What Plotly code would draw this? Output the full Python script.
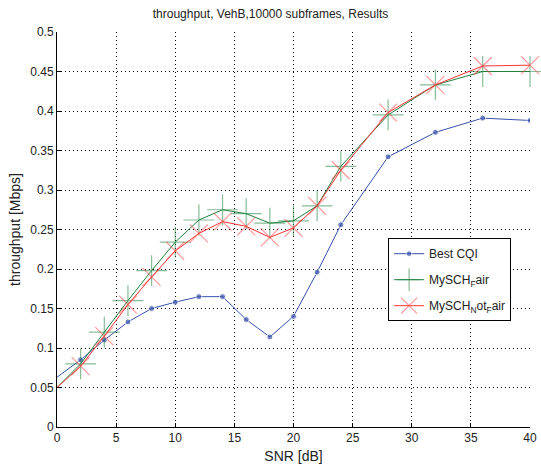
import plotly.graph_objects as go

snr = [0, 2, 4, 6, 8, 10, 12, 14, 16, 18, 20, 22, 24, 28, 32, 36, 40]
best_cqi = [0.063, 0.085, 0.110, 0.133, 0.150, 0.158, 0.165, 0.165, 0.136, 0.114, 0.140, 0.196, 0.256, 0.342, 0.373, 0.391, 0.388]
fair = [0.050, 0.080, 0.120, 0.160, 0.198, 0.234, 0.262, 0.275, 0.270, 0.258, 0.261, 0.280, 0.330, 0.395, 0.433, 0.450, 0.450]
not_fair = [0.050, 0.077, 0.115, 0.155, 0.190, 0.223, 0.245, 0.260, 0.254, 0.240, 0.252, 0.280, 0.325, 0.398, 0.433, 0.457, 0.458]
names = ["Best CQI", "MySCH<sub>F</sub>air", "MySCH<sub>N</sub>ot<sub>F</sub>air"]
x_ticks = [0, 5, 10, 15, 20, 25, 30, 35, 40]
y_ticks = [0, 0.05, 0.1, 0.15, 0.2, 0.25, 0.3, 0.35, 0.4, 0.45, 0.5]


def sizes(s):
    # no marker drawn at the axis origin point
    return [0] + [s] * (len(snr) - 1)


fig = go.Figure()
fig.add_trace(go.Scatter(
    x=snr, y=best_cqi, name=names[0], mode="lines+markers", legendgroup="a",
    line=dict(color="rgb(55,80,170)", width=1),
    marker=dict(symbol="circle", size=sizes(6), color="rgb(55,80,170)")))
fig.add_trace(go.Scatter(
    x=snr, y=fair, name=names[1], mode="lines+markers", legendgroup="b",
    line=dict(color="rgb(30,130,60)", width=1),
    marker=dict(symbol="cross-thin", size=sizes(22), line=dict(color="rgba(30,130,60,0.75)", width=1.2)),
    cliponaxis=False))
fig.add_trace(go.Scatter(
    x=snr, y=not_fair, name=names[2], mode="lines+markers", legendgroup="c",
    line=dict(color="rgb(255,50,50)", width=1),
    marker=dict(symbol="x-thin", size=sizes(18), line=dict(color="rgba(255,60,60,0.75)", width=1.2)),
    cliponaxis=False))

font = dict(family="Liberation Sans, Arial, sans-serif", size=12, color="#222")
grid = dict(showgrid=True, gridcolor="black", griddash="1px,3px", gridwidth=1.3, zeroline=False)
fig.update_layout(
    width=541, height=470,
    margin=dict(l=57, r=4, t=32, b=43),
    paper_bgcolor="white", plot_bgcolor="white",
    font=font,
    title=dict(text="throughput, VehB,10000 subframes, Results", x=0.5, xanchor="center",
               y=1 - 14 / 470, yanchor="middle", font=dict(size=12, color="#222")),
    showlegend=True,
    legend=dict(x=0.70, y=0.478, xanchor="left", yanchor="top",
                bgcolor="white", bordercolor="black", borderwidth=1,
                font=dict(size=12, color="#222"), tracegroupgap=7),
)
fig.update_xaxes(
    range=[0, 40], tickvals=x_ticks, ticks="inside", ticklen=4, tickcolor="black",
    showline=True, linecolor="black", linewidth=1, mirror=False,
    ticklabeloverflow="allow",
    title=dict(text="SNR [dB]", standoff=6), tickfont=dict(size=12), **grid)
fig.update_yaxes(
    range=[0, 0.5], tickvals=y_ticks, ticktext=[("%g" % v) for v in y_ticks],
    ticks="inside", ticklen=4, tickcolor="black",
    showline=True, linecolor="black", linewidth=1, mirror=False,
    title=dict(text="throughput [Mbps]", standoff=6), tickfont=dict(size=12), **grid)

fig.write_html("out.html")
